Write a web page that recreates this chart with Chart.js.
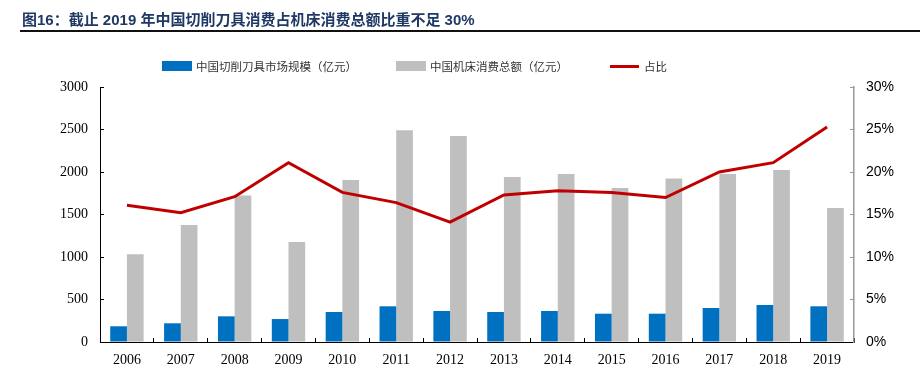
<!DOCTYPE html>
<html>
<head>
<meta charset="utf-8">
<script src="https://cdn.jsdelivr.net/npm/chart.js@4.4.1/dist/chart.umd.min.js"></script>
<style>
  body { margin: 0; background: #fff; }
  #wrap { position: relative; width: 920px; height: 368px; overflow: hidden; }
  #chart { position: absolute; left: 0; top: 0; }
  #title {
    position: absolute; left: 22px; top: 8px;
    font: bold 15px "Liberation Sans", "Noto Sans CJK SC", sans-serif;
    color: #1f3864; white-space: nowrap;
  }
  #rule { position: absolute; left: 20px; top: 30px; width: 900px; height: 2px; background: #111; }
  .item {
    position: absolute; top: 58px; height: 16px; white-space: nowrap;
    font: 11.5px "Noto Sans CJK SC", sans-serif; color: #333; line-height: 16px;
  }
  .item span.sw { position: absolute; left: 0; }
  .item span.tx { position: absolute; }
</style>
</head>
<body>
<div id="wrap">
  <canvas id="chart" width="920" height="368"></canvas>
  <div id="title">图16：截止 2019 年中国切削刀具消费占机床消费总额比重不足 30%</div>
  <div id="rule"></div>
  <div id="legend"></div>
</div>
<script>
// 数据
var years = ["2006", "2007", "2008", "2009", "2010", "2011", "2012", "2013", "2014", "2015", "2016", "2017", "2018", "2019"];
var toolMarket = [185, 220, 302, 270, 353, 420, 365, 353, 365, 333, 333, 400, 435, 420];
var machineTotal = [1031, 1376, 1725, 1176, 1906, 2490, 2424, 1941, 1976, 1812, 1925, 1976, 2024, 1576];
var share = [16.1, 15.2, 17.1, 21.1, 17.6, 16.4, 14.1, 17.3, 17.8, 17.6, 17.0, 20.0, 21.1, 25.3];
var seriesNames = ["中国切削刀具市场规模（亿元）", "中国机床消费总额（亿元）", "占比"];
var leftTicks = [0, 500, 1000, 1500, 2000, 2500, 3000];
var rightTicks = [0, 5, 10, 15, 20, 25, 30];

var blue = "#0070c0";
var grey = "#bfbfbf";
var red = "#c00000";

// 图例 (html)
var legendDef = [
    { x: 162, kind: "box", color: blue, name: seriesNames[0] },
    { x: 396, kind: "box", color: grey, name: seriesNames[1] },
    { x: 610, kind: "line", color: red, name: seriesNames[2] }
];
var legendEl = document.getElementById("legend");
legendDef.forEach(function (d) {
    var it = document.createElement("div");
    it.className = "item";
    it.style.left = d.x + "px";
    var sw = document.createElement("span");
    sw.className = "sw";
    sw.style.width = (d.kind === "box" ? 30 : 29) + "px";
    sw.style.height = (d.kind === "box" ? 10 : 3) + "px";
    sw.style.top = (d.kind === "box" ? 3 : 6.5) + "px";
    sw.style.background = d.color;
    var tx = document.createElement("span");
    tx.className = "tx";
    tx.style.left = "34px";
    tx.textContent = d.name;
    it.appendChild(sw);
    it.appendChild(tx);
    legendEl.appendChild(it);
});

var serif = { family: "'Liberation Serif', 'Times New Roman', serif", size: 14 };
var sans = { family: "'Liberation Sans', Arial, sans-serif", size: 14 };

var ctx = document.getElementById("chart");
var config = {
    type: "bar",
    data: {
        labels: years,
        datasets: [{
            label: seriesNames[2],
            type: "line",
            data: share,
            yAxisID: "y1",
            borderColor: red,
            backgroundColor: red,
            borderWidth: 3,
            pointRadius: 0,
            tension: 0,
            order: 0
        }, {
            label: seriesNames[0],
            data: toolMarket,
            yAxisID: "y",
            backgroundColor: blue,
            categoryPercentage: 0.62,
            barPercentage: 1.0,
            order: 1
        }, {
            label: seriesNames[1],
            data: machineTotal,
            yAxisID: "y",
            backgroundColor: grey,
            categoryPercentage: 0.62,
            barPercentage: 1.0,
            order: 1
        }]
    },
    options: {
        responsive: false,
        animation: false,
        layout: { padding: { top: 87, left: 0, right: 0, bottom: 0 } },
        plugins: {
            legend: { display: false },
            tooltip: { enabled: false }
        },
        scales: {
            x: {
                grid: { drawOnChartArea: false, tickLength: -4, color: "#000", offset: true },
                border: { color: "#000", width: 1 },
                ticks: { color: "#000", font: serif, padding: 14, maxRotation: 0 },
                afterFit: function (s) { s.height = 26; }
            },
            y: {
                position: "left",
                min: 0, max: 3000,
                afterBuildTicks: function (s) { s.ticks = leftTicks.map(function (v) { return { value: v }; }); },
                grid: { drawOnChartArea: false, tickLength: -4, color: "#000" },
                border: { color: "#000", width: 1 },
                ticks: { color: "#000", font: serif, padding: 16, callback: function (v) { return String(v); } },
                afterFit: function (s) { s.width = 100; }
            },
            y1: {
                position: "right",
                min: 0, max: 30,
                afterBuildTicks: function (s) { s.ticks = rightTicks.map(function (v) { return { value: v }; }); },
                grid: { drawOnChartArea: false, tickLength: -4, color: "#999" },
                border: { color: "#999", width: 1.5 },
                ticks: { color: "#000", font: sans, padding: 16, callback: function (v) { return v + "%"; } },
                afterFit: function (s) { s.width = 66; }
            }
        }
    }
};
var chart = new Chart(ctx, config);
</script>
</body>
</html>
